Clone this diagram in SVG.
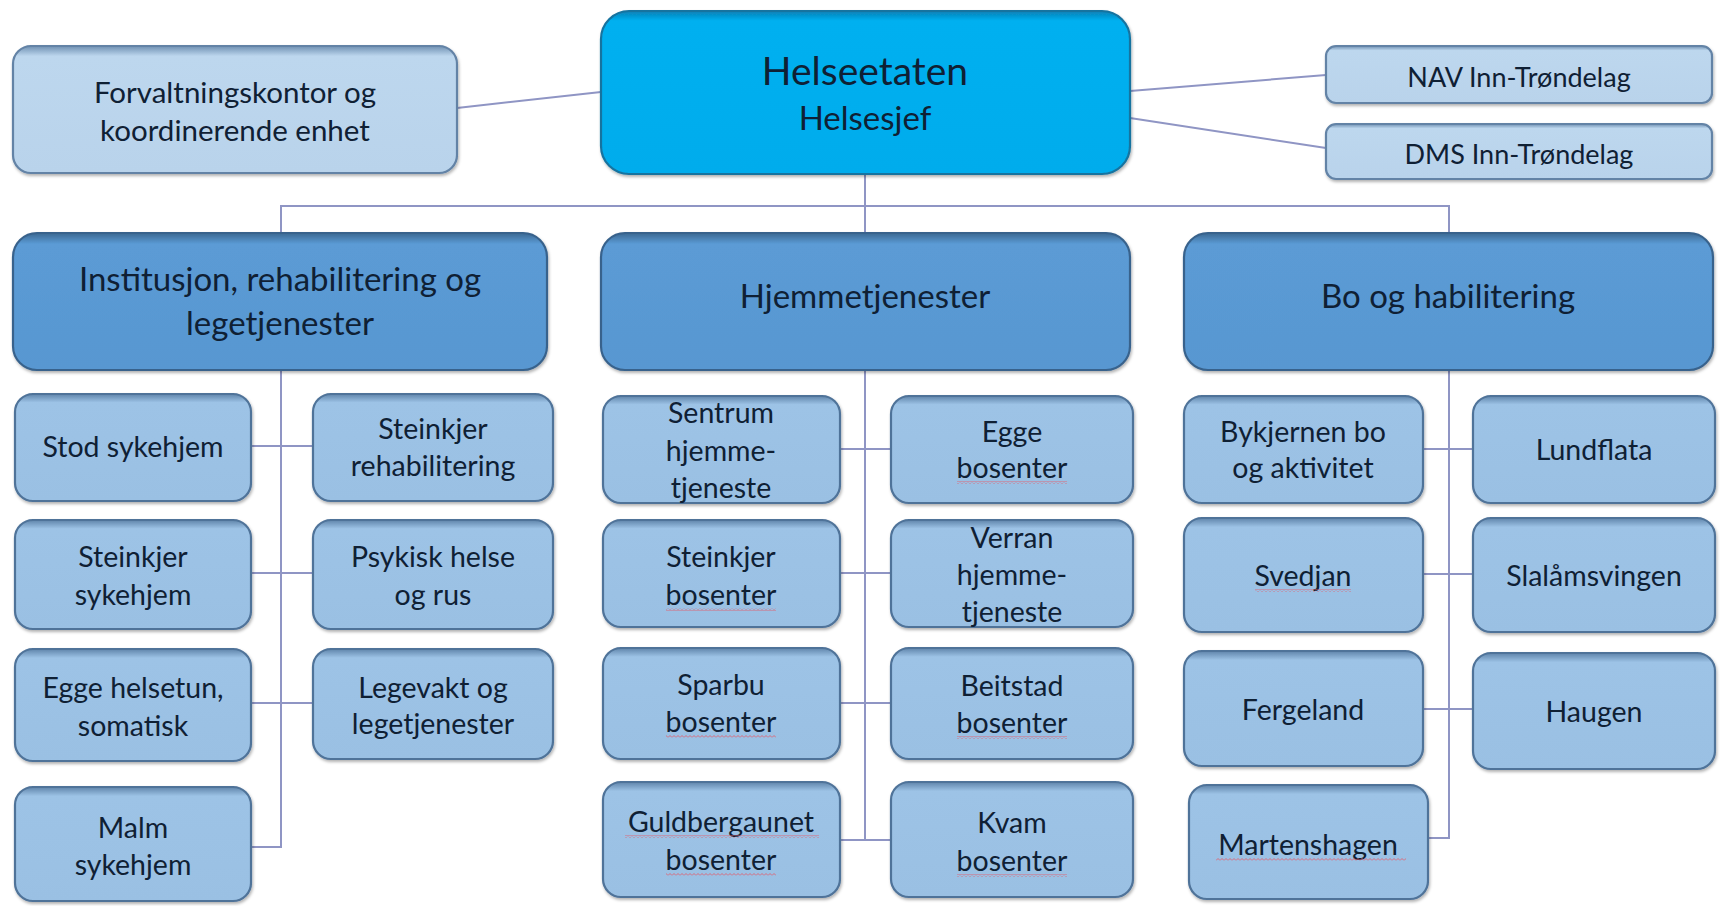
<svg xmlns="http://www.w3.org/2000/svg" width="1724" height="906" viewBox="0 0 1724 906">
<defs>
<linearGradient id="gHead" x1="0" y1="0" x2="0" y2="1"><stop offset="0" stop-color="#0a7fb4"/><stop offset="0.06" stop-color="#00b0f0"/><stop offset="1" stop-color="#00acec"/></linearGradient>
<linearGradient id="gL2" x1="0" y1="0" x2="0" y2="1"><stop offset="0" stop-color="#3b6892"/><stop offset="0.08" stop-color="#5b9bd5"/><stop offset="1" stop-color="#5897d1"/></linearGradient>
<linearGradient id="gCh" x1="0" y1="0" x2="0" y2="1"><stop offset="0" stop-color="#5f84aa"/><stop offset="0.08" stop-color="#9dc3e6"/><stop offset="1" stop-color="#9ac0e3"/></linearGradient>
<linearGradient id="gSide" x1="0" y1="0" x2="0" y2="1"><stop offset="0" stop-color="#6f90b2"/><stop offset="0.08" stop-color="#bdd7ee"/><stop offset="1" stop-color="#b9d3eb"/></linearGradient>
<filter id="sh" x="-5%" y="-5%" width="110%" height="115%"><feDropShadow dx="1" dy="2" stdDeviation="1.5" flood-color="#000" flood-opacity="0.3"/></filter>
<pattern id="sq" width="4" height="3" patternUnits="userSpaceOnUse"><polyline points="0,2.5 2,0.5 4,2.5" fill="none" stroke="#e0606e" stroke-width="0.9"/></pattern>
<style>
.conn{stroke:#8f95c4;stroke-width:2;fill:none}
rect.b{stroke-width:2.2;filter:url(#sh)}
.head rect.b{fill:url(#gHead);stroke:#17739f}
.l2 rect.b{fill:url(#gL2);stroke:#38628c}
.ch rect.b{fill:url(#gCh);stroke:#4f7399}
.side rect.b{fill:url(#gSide);stroke:#6383a6}
text{font-family:Lato,"Open Sans","Liberation Sans",sans-serif;fill:#0f2034;text-anchor:middle;dominant-baseline:central}
.t-head{font-size:39px}
.t-sub{font-size:33px}
.t-l2{font-size:33px}
.t-ch{font-size:28.5px}
.t-side{font-size:29.5px}
.t-nav{font-size:27px}
.sq{fill:url(#sq)}
</style>
</defs>
<rect width="1724" height="906" fill="#ffffff"/>

<g id="connectors">
<line class="conn" x1="457" y1="108" x2="601" y2="92"/>
<line class="conn" x1="1130" y1="91" x2="1326" y2="75"/>
<line class="conn" x1="1130" y1="118" x2="1326" y2="148"/>
<line class="conn" x1="865" y1="174" x2="865" y2="233"/>
<polyline class="conn" points="281,233 281,206 1449,206 1449,233"/>
<polyline class="conn" points="281,370 281,847 250,847"/>
<line class="conn" x1="251" y1="446" x2="313" y2="446"/>
<line class="conn" x1="251" y1="573" x2="313" y2="573"/>
<line class="conn" x1="251" y1="703" x2="313" y2="703"/>
<line class="conn" x1="865" y1="370" x2="865" y2="840"/>
<line class="conn" x1="840" y1="449" x2="891" y2="449"/>
<line class="conn" x1="840" y1="573" x2="891" y2="573"/>
<line class="conn" x1="840" y1="703" x2="891" y2="703"/>
<line class="conn" x1="840" y1="840" x2="891" y2="840"/>
<polyline class="conn" points="1449,370 1449,838 1428,838"/>
<line class="conn" x1="1423" y1="449" x2="1473" y2="449"/>
<line class="conn" x1="1423" y1="574" x2="1473" y2="574"/>
<line class="conn" x1="1423" y1="709" x2="1473" y2="709"/>
</g>

<g id="forvaltning" class="side"><rect class="b" x="13" y="46" width="444" height="127" rx="18"/>
<text class="t-side" x="235" y="91">Forvaltningskontor og</text><text class="t-side" x="235" y="129">koordinerende enhet</text></g>
<g id="helseetaten" class="head"><rect class="b" x="601" y="11" width="529" height="163" rx="28"/>
<text class="t-head" x="865" y="70">Helseetaten</text><text class="t-sub" x="865" y="117">Helsesjef</text></g>
<g id="nav" class="side"><rect class="b" x="1326" y="46" width="386" height="57" rx="10"/>
<text class="t-nav" x="1519" y="76">NAV Inn-Trøndelag</text></g>
<g id="dms" class="side"><rect class="b" x="1326" y="124" width="386" height="55" rx="10"/>
<text class="t-nav" x="1519" y="153">DMS Inn-Trøndelag</text></g>

<g id="institusjon" class="l2"><rect class="b" x="13" y="233" width="534" height="137" rx="24"/>
<text class="t-l2" x="280" y="278">Institusjon, rehabilitering og</text><text class="t-l2" x="280" y="322">legetjenester</text></g>
<g id="hjemmetjenester" class="l2"><rect class="b" x="601" y="233" width="529" height="137" rx="24"/>
<text class="t-l2" x="865" y="295">Hjemmetjenester</text></g>
<g id="bo" class="l2"><rect class="b" x="1184" y="233" width="529" height="137" rx="24"/>
<text class="t-l2" x="1448" y="295">Bo og habilitering</text></g>

<g id="stod" class="ch"><rect class="b" x="15" y="394" width="236" height="107" rx="18"/>
<text class="t-ch" x="133" y="446">Stod sykehjem</text></g>
<g id="steinkjer-rehab" class="ch"><rect class="b" x="313" y="394" width="240" height="107" rx="18"/>
<text class="t-ch" x="433" y="428">Steinkjer</text><text class="t-ch" x="433" y="465">rehabilitering</text></g>
<g id="steinkjer-sykehjem" class="ch"><rect class="b" x="15" y="520" width="236" height="109" rx="18"/>
<text class="t-ch" x="133" y="556">Steinkjer</text><text class="t-ch" x="133" y="594">sykehjem</text></g>
<g id="psykisk" class="ch"><rect class="b" x="313" y="520" width="240" height="109" rx="18"/>
<text class="t-ch" x="433" y="556">Psykisk helse</text><text class="t-ch" x="433" y="594">og rus</text></g>
<g id="egge-helsetun" class="ch"><rect class="b" x="15" y="649" width="236" height="112" rx="18"/>
<text class="t-ch" x="133" y="687">Egge helsetun,</text><text class="t-ch" x="133" y="725">somatisk</text></g>
<g id="legevakt" class="ch"><rect class="b" x="313" y="649" width="240" height="110" rx="18"/>
<text class="t-ch" x="433" y="687">Legevakt og</text><text class="t-ch" x="433" y="723">legetjenester</text></g>
<g id="malm" class="ch"><rect class="b" x="15" y="787" width="236" height="114" rx="18"/>
<text class="t-ch" x="133" y="827">Malm</text><text class="t-ch" x="133" y="864">sykehjem</text></g>

<g id="sentrum" class="ch"><rect class="b" x="603" y="396" width="237" height="107" rx="18"/>
<text class="t-ch" x="721" y="412">Sentrum</text><text class="t-ch" x="721" y="450">hjemme-</text><text class="t-ch" x="721" y="487">tjeneste</text></g>
<g id="egge-bosenter" class="ch"><rect class="b" x="891" y="396" width="242" height="107" rx="18"/>
<text class="t-ch" x="1012" y="431">Egge</text><text class="t-ch" x="1012" y="467">bosenter</text><rect class="sq" x="957" y="481" width="110" height="3"/></g>
<g id="steinkjer-bosenter" class="ch"><rect class="b" x="603" y="520" width="237" height="107" rx="18"/>
<text class="t-ch" x="721" y="556">Steinkjer</text><text class="t-ch" x="721" y="594">bosenter</text><rect class="sq" x="666" y="608" width="110" height="3"/></g>
<g id="verran" class="ch"><rect class="b" x="891" y="520" width="242" height="107" rx="18"/>
<text class="t-ch" x="1012" y="537">Verran</text><text class="t-ch" x="1012" y="574">hjemme-</text><text class="t-ch" x="1012" y="611">tjeneste</text></g>
<g id="sparbu" class="ch"><rect class="b" x="603" y="648" width="237" height="111" rx="18"/>
<text class="t-ch" x="721" y="684">Sparbu</text><text class="t-ch" x="721" y="721">bosenter</text><rect class="sq" x="666" y="735" width="110" height="3"/></g>
<g id="beitstad" class="ch"><rect class="b" x="891" y="648" width="242" height="111" rx="18"/>
<text class="t-ch" x="1012" y="685">Beitstad</text><text class="t-ch" x="1012" y="722">bosenter</text><rect class="sq" x="957" y="736" width="110" height="3"/></g>
<g id="guldbergaunet" class="ch"><rect class="b" x="603" y="782" width="237" height="115" rx="18"/>
<text class="t-ch" x="721" y="821">Guldbergaunet</text><text class="t-ch" x="721" y="859">bosenter</text><rect class="sq" x="625" y="835" width="194" height="3"/><rect class="sq" x="666" y="873" width="110" height="3"/></g>
<g id="kvam" class="ch"><rect class="b" x="891" y="782" width="242" height="115" rx="18"/>
<text class="t-ch" x="1012" y="822">Kvam</text><text class="t-ch" x="1012" y="860">bosenter</text><rect class="sq" x="957" y="874" width="110" height="3"/></g>

<g id="bykjernen" class="ch"><rect class="b" x="1184" y="396" width="239" height="107" rx="18"/>
<text class="t-ch" x="1303" y="431">Bykjernen bo</text><text class="t-ch" x="1303" y="467">og aktivitet</text></g>
<g id="lundflata" class="ch"><rect class="b" x="1473" y="396" width="242" height="107" rx="18"/>
<text class="t-ch" x="1594" y="449">Lundflata</text></g>
<g id="svedjan" class="ch"><rect class="b" x="1184" y="518" width="239" height="114" rx="18"/>
<text class="t-ch" x="1303" y="575">Svedjan</text><rect class="sq" x="1255" y="589" width="96" height="3"/></g>
<g id="slalamsvingen" class="ch"><rect class="b" x="1473" y="518" width="242" height="114" rx="18"/>
<text class="t-ch" x="1594" y="575">Slalåmsvingen</text></g>
<g id="fergeland" class="ch"><rect class="b" x="1184" y="651" width="239" height="115" rx="18"/>
<text class="t-ch" x="1303" y="709">Fergeland</text></g>
<g id="haugen" class="ch"><rect class="b" x="1473" y="653" width="242" height="116" rx="18"/>
<text class="t-ch" x="1594" y="711">Haugen</text></g>
<g id="martenshagen" class="ch"><rect class="b" x="1189" y="785" width="239" height="114" rx="18"/>
<text class="t-ch" x="1308" y="844">Martenshagen</text><rect class="sq" x="1216" y="858" width="190" height="3"/></g>
</svg>
